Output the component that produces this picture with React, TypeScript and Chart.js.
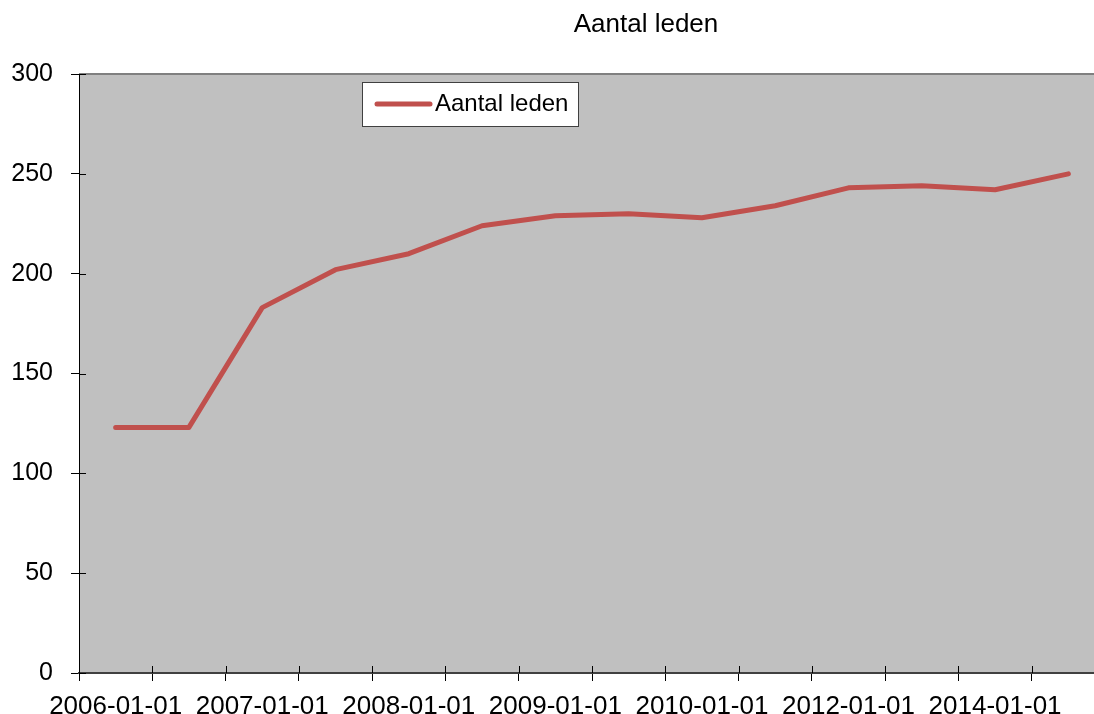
import React, { useEffect, useRef } from "react";
import { Chart, registerables } from "chart.js";

Chart.register(...registerables);

const categories = [
  "2006-01-01", "2006-07-01", "2007-01-01", "2007-07-01", "2008-01-01", "2008-07-01",
  "2009-01-01", "2009-07-01", "2010-01-01", "2011-01-01", "2012-01-01", "2013-01-01",
  "2014-01-01", "2015-01-01",
];
const members = [123, 123, 183, 202, 210, 224, 229, 230, 228, 234, 243, 244, 242, 250];
const seriesLabel = "Aantal leden";
const chartTitle = "Aantal leden";
const yTicks = [0, 50, 100, 150, 200, 250, 300];

const FONT = "'Liberation Sans', Arial, sans-serif";
const LINE_COLOR = "#c0504d";

const decorPlugin = {
  id: "decor",
  beforeDraw(chart: any) {
    const { ctx, chartArea: a } = chart;
    ctx.save();
    ctx.fillStyle = "#c0c0c0";
    ctx.fillRect(a.left, a.top, a.right - a.left, a.bottom - a.top);
    ctx.strokeStyle = "#808080";
    ctx.lineWidth = 2;
    ctx.beginPath();
    ctx.moveTo(a.left, a.top);
    ctx.lineTo(a.right + 1, a.top);
    ctx.stroke();
    ctx.restore();
  },
  afterDraw(chart: any) {
    const { ctx, chartArea: a } = chart;
    const xs = chart.scales.x;
    const ys = chart.scales.y;
    ctx.save();
    // inner tick parts
    ctx.strokeStyle = "#000";
    ctx.lineWidth = 1;
    const n = chart.data.labels.length;
    const half = (xs.getPixelForValue(1) - xs.getPixelForValue(0)) / 2;
    for (let i = 1; i <= n; i++) {
      const px = Math.round(xs.getPixelForValue(i) - half) + 0.5;
      ctx.beginPath();
      ctx.moveTo(px, a.bottom);
      ctx.lineTo(px, a.bottom - 7);
      ctx.stroke();
    }
    yTicks.forEach((v) => {
      const py = Math.round(ys.getPixelForValue(v)) + 0.5;
      ctx.beginPath();
      ctx.moveTo(a.left, py);
      ctx.lineTo(a.left + 7, py);
      ctx.stroke();
    });
    // title
    ctx.fillStyle = "#000";
    ctx.font = `26px ${FONT}`;
    ctx.textAlign = "center";
    ctx.textBaseline = "middle";
    ctx.fillText(chartTitle, a.left + 567, 24.5);
    // legend
    const lx = a.left + 283;
    const ly = a.top + 8;
    const lw = 216;
    const lh = 44;
    ctx.fillStyle = "#ffffff";
    ctx.fillRect(lx, ly, lw, lh);
    ctx.strokeStyle = "#404040";
    ctx.lineWidth = 1;
    ctx.strokeRect(lx + 0.5, ly + 0.5, lw, lh);
    const ds = chart.data.datasets[0];
    ctx.strokeStyle = ds.borderColor;
    ctx.lineWidth = 5;
    ctx.lineCap = "round";
    ctx.beginPath();
    ctx.moveTo(lx + 15, ly + 22);
    ctx.lineTo(lx + 68, ly + 22);
    ctx.stroke();
    ctx.fillStyle = "#000";
    ctx.font = `24px ${FONT}`;
    ctx.textAlign = "left";
    ctx.textBaseline = "middle";
    ctx.fillText(ds.label, lx + 73, ly + 22.5);
    ctx.restore();
  },
};

export default function App() {
  const ref = useRef<HTMLCanvasElement | null>(null);
  useEffect(() => {
    if (!ref.current) return;
    const chart = new Chart(ref.current, {
      type: "line",
      data: {
        labels: categories,
        datasets: [
          {
            label: seriesLabel,
            data: members,
            borderColor: LINE_COLOR,
            backgroundColor: LINE_COLOR,
            borderWidth: 5,
            borderCapStyle: "round",
            borderJoinStyle: "round",
            pointRadius: 0,
            tension: 0,
            fill: false,
          },
        ],
      },
      plugins: [decorPlugin],
      options: {
        animation: false,
        responsive: false,
        maintainAspectRatio: false,
        layout: { padding: { top: 74, right: 1, left: 0, bottom: 0 } },
        plugins: { legend: { display: false }, title: { display: false }, tooltip: { enabled: false } },
        scales: {
          x: {
            type: "category",
            offset: true,
            grid: { offset: true, drawOnChartArea: false, drawTicks: true, tickLength: 8, color: "#000", lineWidth: 1 },
            border: { display: true, color: "#404040", width: 2 },
            ticks: {
              autoSkip: false,
              maxRotation: 0,
              minRotation: 0,
              padding: 10,
              color: "#000",
              font: { family: FONT, size: 26 },
              callback: (_v: any, i: number) => (i % 2 === 0 ? categories[i] : ""),
            },
            afterFit: (s: any) => {
              s.height = 41;
            },
          },
          y: {
            min: 0,
            max: 300,
            grid: { drawOnChartArea: false, drawTicks: true, tickLength: 8, color: "#000", lineWidth: 1 },
            border: { display: true, color: "#000", width: 1 },
            ticks: {
              stepSize: 50,
              padding: 18,
              color: "#000",
              font: { family: FONT, size: 25 },
            },
            afterFit: (s: any) => {
              s.width = 79;
            },
          },
        },
      },
    });
    return () => chart.destroy();
  }, []);
  return (
    <div style={{ position: "absolute", left: 0, top: 0, width: 1094, height: 714, overflow: "hidden", background: "#fff" }}>
      <canvas ref={ref} width={1106} height={714} style={{ display: "block" }} />
    </div>
  );
}
